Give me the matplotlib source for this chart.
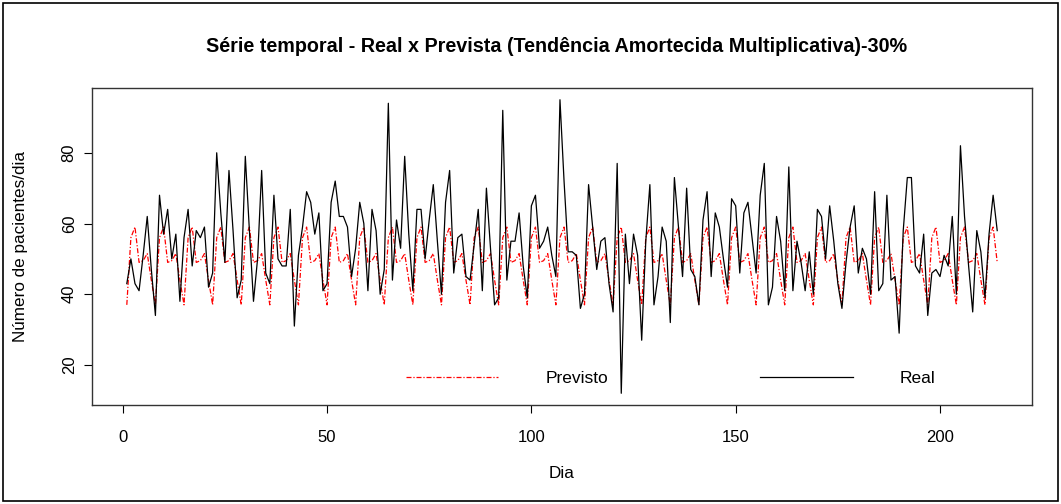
import matplotlib.pyplot as plt
from matplotlib.lines import Line2D

plt.rcParams['font.family'] = ['Liberation Sans', 'DejaVu Sans']

# dias 1..214
real = [43, 50, 43, 41, 51, 62, 47, 34, 68, 57,
        64, 50, 57, 38, 56, 64, 48, 58, 56, 59,
        42, 46, 80, 63, 49, 75, 58, 39, 44, 79,
        58, 38, 50, 75, 46, 43, 68, 50, 48, 48,
        64, 31, 51, 59, 69, 66, 57, 63, 41, 43,
        66, 72, 62, 62, 59, 45, 53, 66, 60, 41,
        64, 58, 40, 47, 94, 44, 61, 53, 79, 57,
        41, 64, 64, 50, 61, 71, 55, 40, 66, 75,
        46, 56, 57, 45, 44, 54, 64, 41, 70, 53,
        37, 39, 92, 44, 55, 55, 63, 48, 39, 65,
        68, 53, 55, 59, 51, 45, 95, 72, 52, 52,
        51, 36, 40, 71, 59, 47, 55, 56, 43, 35,
        77, 12, 57, 43, 57, 51, 27, 55, 71, 37,
        45, 59, 55, 32, 73, 59, 45, 70, 47, 45,
        37, 61, 69, 45, 63, 59, 50, 42, 67, 65,
        46, 63, 66, 56, 46, 68, 77, 37, 42, 62,
        55, 41, 76, 41, 55, 49, 41, 52, 40, 64,
        62, 50, 65, 55, 43, 36, 49, 59, 65, 46,
        53, 50, 40, 69, 41, 43, 68, 44, 45, 29,
        58, 73, 73, 48, 46, 57, 34, 46, 47, 45,
        51, 48, 62, 40, 82, 62, 48, 35, 58, 52,
        39, 57, 68, 58]

# previsao: padrao semanal repetido
semana = [37, 56, 59, 49, 49.5, 51.5, 44]
previsto = [semana[i % 7] for i in range(len(real))]
dias = list(range(1, len(real) + 1))

fig = plt.figure(figsize=(10.61, 5.04), dpi=100)
ax = fig.add_axes([0.0867, 0.1964, 0.886, 0.629])

ax.plot(dias, previsto, color='red', lw=0.9, dashes=(4, 1.5, 1, 1.5))
ax.plot(dias, real, color='black', lw=0.9)

n = len(real)
pad_x = 0.04 * (n - 1)
ax.set_xlim(1 - pad_x, n + pad_x)
lo, hi = min(real + previsto), max(real + previsto)
ax.set_ylim(lo - 0.04 * (hi - lo), hi + 0.04 * (hi - lo))

ax.set_xticks([0, 50, 100, 150, 200])
ax.set_yticks([20, 40, 60, 80])
ax.tick_params(direction='out', length=6, width=0.8, labelsize=12)
ax.tick_params(axis='x', pad=12)
ax.tick_params(axis='y', pad=5)
for lab in ax.get_yticklabels():
    lab.set_rotation(90)
    lab.set_va('center')
for s in ax.spines.values():
    s.set_linewidth(1.0)
    s.set_color('#333333')

ax.set_title('Série temporal - Real x Prevista (Tendência Amortecida Multiplicativa)-30%',
             fontsize=14.2, fontweight='bold', pad=26, x=0.494)
ax.set_xlabel('Dia', fontsize=12.3, labelpad=15)
ax.set_ylabel('Número de pacientes/dia', fontsize=12.3, labelpad=24)

handles = [Line2D([], [], color='red', lw=0.9, dashes=(4, 1.5, 1, 1.5)),
           Line2D([], [], color='black', lw=0.9)]
ax.legend(handles, ['Previsto', 'Real'], ncol=2, frameon=False, fontsize=12.5,
          loc='center left', bbox_to_anchor=(0.317, 0.085),
          handlelength=5.35, handletextpad=2.7, columnspacing=8.75)

fig.patches.append(plt.Rectangle((0.003, 0.005), 0.994, 0.99, transform=fig.transFigure,
                                 fill=False, edgecolor='black', lw=1.2))

fig.savefig('out.png', dpi=100)
